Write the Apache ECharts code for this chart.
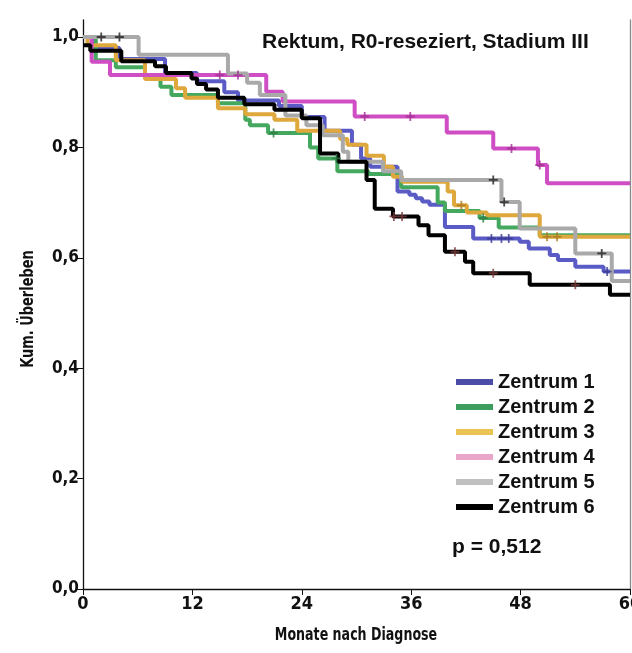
<!DOCTYPE html>
<html>
<head>
<meta charset="utf-8">
<script src="https://cdn.jsdelivr.net/npm/echarts@6/dist/echarts.min.js"></script>
<style>
  html, body { margin: 0; padding: 0; background: #fff; }
  #km { width: 632px; height: 653px; }
</style>
</head>
<body>
<div id="km"></div>
<script>
// ------------------------------
// Kaplan-Meier data (time in months, cumulative survival)
// ------------------------------
var names = ['Zentrum 1', 'Zentrum 2', 'Zentrum 3', 'Zentrum 4', 'Zentrum 5', 'Zentrum 6'];

var z1Time = [0, 1, 4, 9, 12.5, 15.5, 17, 21.5, 24, 26.5, 29.5, 30.5, 31.5, 34.5, 35.8, 36.5, 37.2, 38, 39.7, 42.8, 47.9, 48.9, 51.2, 52.1, 54.0, 57.1];
var z1Surv = [1.0, 0.98, 0.96, 0.935, 0.92, 0.9, 0.885, 0.875, 0.855, 0.83, 0.805, 0.78, 0.765, 0.72, 0.714, 0.708, 0.702, 0.696, 0.656, 0.635, 0.629, 0.617, 0.605, 0.596, 0.584, 0.575];
var z1Cens = [44.8, 45.9, 46.7, 57.5];

var z2Time = [0, 1.4, 3.6, 6.8, 8.5, 9.7, 14.8, 17.8, 18.3, 20.3, 24.9, 25.8, 27.9, 31.3, 34.9, 38.9, 39.7, 43.5, 45.6, 50.1];
var z2Surv = [1.0, 0.958, 0.945, 0.93, 0.91, 0.895, 0.88, 0.85, 0.84, 0.826, 0.80, 0.78, 0.757, 0.752, 0.728, 0.70, 0.685, 0.672, 0.655, 0.641];
var z2Cens = [20.9, 27.8, 43.9];

var z3Time = [0, 0.5, 3.6, 6.8, 10.2, 11.2, 14.8, 17.8, 21, 23.5, 28.2, 29, 31.1, 33, 34, 35, 40, 40.7, 42.1, 44.3, 50.1];
var z3Surv = [1.0, 0.985, 0.958, 0.924, 0.907, 0.89, 0.871, 0.86, 0.85, 0.83, 0.815, 0.805, 0.785, 0.765, 0.747, 0.738, 0.72, 0.695, 0.682, 0.677, 0.638];
var z3Cens = [41.5, 50.9, 52.0];

var z4Time = [0, 0.95, 2.96, 20.1, 21.9, 29.8, 39.9, 45, 49.9, 50.9];
var z4Surv = [1.0, 0.955, 0.931, 0.901, 0.883, 0.856, 0.827, 0.798, 0.768, 0.735];
var z4Cens = [15, 17, 30.9, 35.9, 47, 50.1];

var z5Time = [0, 6.1, 15.9, 18, 19.4, 22.2, 24.5, 26.3, 28.5, 29.1, 32.9, 34.9, 45.9, 47.9, 54.0, 58.0];
var z5Surv = [1.0, 0.968, 0.934, 0.917, 0.895, 0.858, 0.84, 0.822, 0.792, 0.774, 0.757, 0.741, 0.701, 0.653, 0.608, 0.558];
var z5Cens = [2, 4, 45, 46.2, 56.9];

var z6Time = [0, 0.8, 4.2, 7.9, 9.1, 11.9, 12.5, 13.5, 14.8, 17.7, 21, 24, 26, 28, 31.1, 32, 34, 36.8, 37.9, 39.7, 41.9, 42.8, 49, 57.8];
var z6Surv = [0.985, 0.975, 0.956, 0.947, 0.935, 0.925, 0.915, 0.905, 0.89, 0.878, 0.868, 0.853, 0.789, 0.774, 0.741, 0.689, 0.675, 0.659, 0.641, 0.611, 0.593, 0.572, 0.551, 0.533];
var z6Cens = [34.1, 35.0, 40.8, 45.0, 54.0];

var yTicks = [0, 0.2, 0.4, 0.6, 0.8, 1.0];
var xTicks = [0, 12, 24, 36, 48, 60];
var pText = 'p = 0,512';
var titleText = 'Rektum, R0-reseziert, Stadium III';
var xName = 'Monate nach Diagnose';
var yName = 'Kum. Überleben';

var times = [z1Time, z2Time, z3Time, z4Time, z5Time, z6Time];
var survs = [z1Surv, z2Surv, z3Surv, z4Surv, z5Surv, z6Surv];
var cens = [z1Cens, z2Cens, z3Cens, z4Cens, z5Cens, z6Cens];

// colours
var lineColors = ['#5b5bc6', '#45a85f', '#dfa83c', '#d04ec4', '#a9a9a9', '#000000'];
var legendColors = ['#4b4ba8', '#3d9d5f', '#eac453', '#eaa6c8', '#c0c0c0', '#000000'];
var censColors = ['#3a3a90', '#2d7a45', '#a87820', '#a03090', '#222222', '#7a3a3a'];

var narrow = '"Liberation Sans Narrow", "DejaVu Sans Condensed", sans-serif';
var wide = '"Liberation Sans", Arial, sans-serif';

function survAt(tArr, sArr, t) {
    var s = sArr[0];
    for (var i = 0; i < tArr.length; i++) {
        if (tArr[i] <= t) s = sArr[i];
    }
    return s;
}

var series = [];
names.forEach(function(n, k) {
    var pts = times[k].map(function(t, i) { return [t, survs[k][i]]; });
    pts.push([60, survs[k][survs[k].length - 1]]);
    series.push({
        name: n,
        type: 'line',
        step: 'end',
        showSymbol: false,
        symbol: 'none',
        data: pts,
        lineStyle: { width: 4, color: lineColors[k] },
        itemStyle: { color: lineColors[k] },
        z: 2 + k
    });
});
names.forEach(function(n, k) {
    series.push({
        name: n + ' zensiert',
        type: 'scatter',
        symbol: 'path://M4,0H6V10H4ZM0,4H10V6H0Z',
        symbolSize: 9,
        data: cens[k].map(function(t) { return [t, survAt(times[k], survs[k], t)]; }),
        itemStyle: { color: censColors[k] },
        z: 10
    });
});

var kmChart = echarts.init(document.getElementById('km'));
var option = {
    animation: false,
    backgroundColor: '#fff',
    // Setup grid
    grid: { left: 83, right: 2, top: 20, bottom: 64, outerBoundsMode: 'none' },
    // Add legend
    legend: {
        orient: 'vertical',
        left: 451,
        top: 367,
        itemWidth: 37,
        itemHeight: 6,
        itemGap: 5,
        icon: 'rect',
        data: names.map(function(n, k) { return { name: n, itemStyle: { color: legendColors[k] } }; }),
        textStyle: { fontFamily: wide, fontWeight: 'bold', fontSize: 20, color: '#111' }
    },
    // title, p-value and narrow axis titles
    graphic: [
        { type: 'text', left: 262, top: 32, style: { text: titleText, font: 'bold 21px ' + wide, fill: '#111' } },
        { type: 'text', left: 452, top: 537, style: { text: pText, font: 'bold 21px ' + wide, fill: '#111' } },
        { type: 'text', x: 356, y: 635, scaleX: 0.78,
          style: { text: xName, font: 'bold 18px ' + narrow, fill: '#111', textAlign: 'center', textVerticalAlign: 'middle' } },
        { type: 'text', x: 28, y: 309, rotation: Math.PI / 2, scaleX: 0.8,
          style: { text: yName, font: 'bold 18px ' + narrow, fill: '#111', textAlign: 'center', textVerticalAlign: 'middle' } }
    ],
    // Horizontal axis
    xAxis: {
        type: 'value',
        min: 0,
        max: 60,
        interval: 12,
        axisLine: { lineStyle: { color: '#111', width: 1.3 } },
        axisTick: { length: 6, lineStyle: { color: '#111' } },
        axisLabel: { fontFamily: narrow, fontWeight: 'bold', fontSize: 18, color: '#111', margin: 6,
            customValues: xTicks },
        splitLine: { show: false }
    },
    // Vertical axes
    yAxis: [{
        type: 'value',
        min: 0,
        max: 1.0308,
        axisLine: { show: true, lineStyle: { color: '#111', width: 1.3 } },
        axisTick: { show: true, length: 6, lineStyle: { color: '#111' }, customValues: yTicks },
        axisLabel: { fontFamily: narrow, fontWeight: 'bold', fontSize: 17, color: '#111', margin: 4,
            customValues: yTicks,
            formatter: function(v) { return v.toFixed(1).replace('.', ','); } },
        splitLine: { show: false }
    }, {
        type: 'value',
        position: 'right',
        min: 0,
        max: 1.0308,
        axisLine: { show: true, lineStyle: { color: '#888', width: 1.3 } },
        axisTick: { show: false },
        axisLabel: { show: false },
        splitLine: { show: false }
    }],
    series: series
};
kmChart.setOption(option);
</script>
</body>
</html>
